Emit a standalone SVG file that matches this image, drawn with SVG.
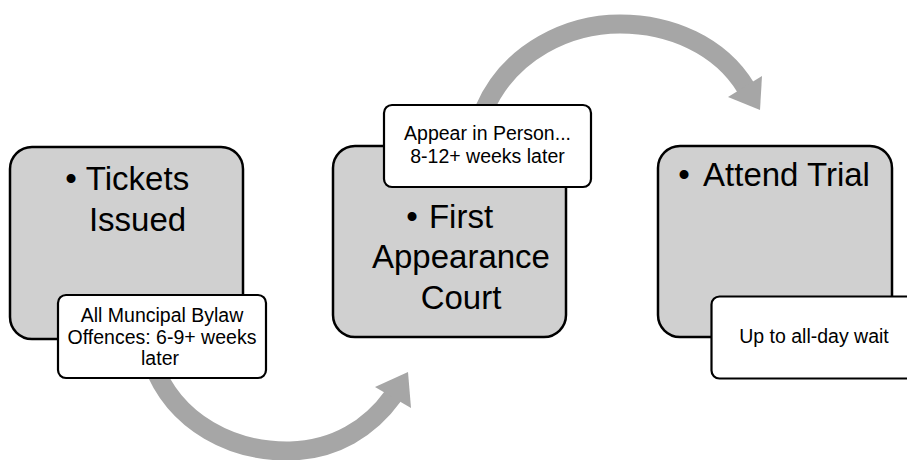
<svg xmlns="http://www.w3.org/2000/svg" width="907" height="460" viewBox="0 0 907 460">
<style>
.box{fill:#d0d0d0;stroke:#000;stroke-width:2.5}
.call{fill:#fff;stroke:#000;stroke-width:2.2}
.big{font-family:"Liberation Sans",Arial,sans-serif;font-size:33px;fill:#000;text-anchor:middle}
.small{font-family:"Liberation Sans",Arial,sans-serif;font-size:19.5px;fill:#000;text-anchor:middle}
.shaft{fill:none;stroke:#a6a6a6;stroke-width:19}
.head{fill:#a6a6a6}
</style>
<g id="connectors">
<path class="shaft" d="M 152 362 C 175 425, 235 452, 290 451 C 335 450, 370 428, 393 396"/>
<polygon class="head" points="375,387 408,372 411,408"/>
<path class="shaft" d="M 484 110 C 510 50, 570 24, 620 24 C 670 24, 720 45, 746 88"/>
<polygon class="head" points="728,97 760,110 762,76"/>
</g>
<g id="node-tickets">
<rect class="box" x="10" y="147" width="233" height="192" rx="22"/>
<text class="big" x="71" y="190">•</text>
<text class="big" x="137.5" y="190">Tickets</text>
<text class="big" x="137.5" y="231">Issued</text>
</g>
<g id="node-first">
<rect class="box" x="333" y="146" width="233" height="191" rx="22"/>
<text class="big" x="412" y="228">•</text>
<text class="big" x="461" y="228">First</text>
<text class="big" x="461" y="268">Appearance</text>
<text class="big" x="461" y="309">Court</text>
</g>
<g id="node-trial">
<rect class="box" x="658" y="146" width="234" height="191" rx="22"/>
<text class="big" x="684" y="186">•</text>
<text class="big" x="786.5" y="186">Attend Trial</text>
</g>
<g id="callout-tickets">
<rect class="call" x="58" y="295" width="208" height="83" rx="8"/>
<text class="small" x="162" y="322">All Muncipal Bylaw</text>
<text class="small" x="162" y="343.5">Offences: 6-9+ weeks</text>
<text class="small" x="160" y="365">later</text>
</g>
<g id="callout-first">
<rect class="call" x="384" y="105" width="207" height="82" rx="8"/>
<text class="small" x="487.5" y="140">Appear in Person...</text>
<text class="small" x="487.5" y="163">8-12+ weeks later</text>
</g>
<g id="callout-trial">
<rect class="call" x="711.5" y="296.5" width="208" height="82" rx="8"/>
<text class="small" x="814" y="343">Up to all-day wait</text>
</g>
</svg>
